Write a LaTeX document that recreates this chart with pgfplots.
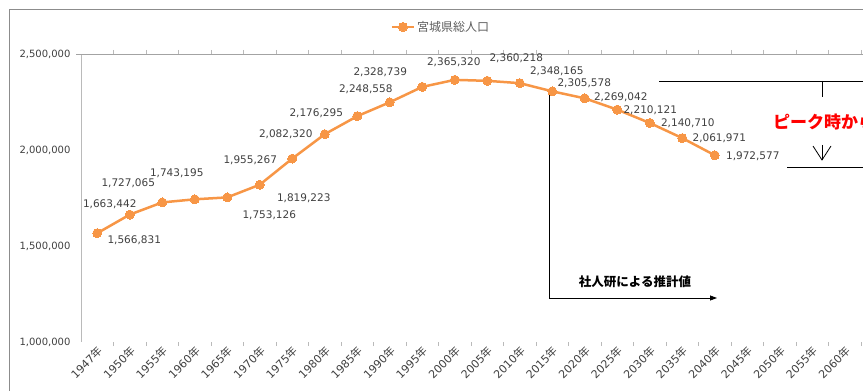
\documentclass[border=0pt]{standalone}
\usepackage{pgfplots}
\pgfplotsset{compat=1.18}
\usepackage{pgfplotstable}
\usepackage{fontspec}
\usetikzlibrary{arrows.meta}
\setmainfont{DejaVu Sans}
\newfontfamily\cjk{Noto Sans CJK JP}
\definecolor{orng}{RGB}{247,150,70}
\definecolor{txt}{RGB}{64,64,64}
\definecolor{frm}{RGB}{140,140,140}
\newcommand{\nen}[1]{#1{\cjk 年}}

\pgfplotstableread{
x y dx dy lab
0 1566831 37 -7 1,566,831
1 1663442 -20 10 1,663,442
2 1727065 -34 19 1,727,065
3 1743195 -18 26 1,743,195
4 1753126 42 -18 1,753,126
5 1819223 44 -14 1,819,223
6 1955267 -42 -2 1,955,267
7 2082320 -39 0 2,082,320
8 2176295 -41 3 2,176,295
9 2248558 -24 13 2,248,558
10 2328739 -42 15 2,328,739
11 2365320 -1 18 2,365,320
12 2360218 29 23 2,360,218
13 2348165 37 12 2,348,165
14 2305578 32 8 2,305,578
15 2269042 36 1 2,269,042
16 2210121 33 -1 2,210,121
17 2140710 38 0 2,140,710
18 2061971 37 0 2,061,971
19 1972577 38 -1 1,972,577
}\popdata

\begin{document}
\begin{tikzpicture}[font=\fontsize{10.5}{12}\selectfont]
% outer frame
\draw[frm, line width=0.8pt] (9pt,-5pt) -- (9pt,382pt) -- (875pt,382pt);
% plot frame lines
\draw[frm!60, line width=0.8pt] (81pt,49pt) -- (81pt,337pt);
\draw[frm!80, line width=0.8pt] (76pt,337pt) -- (875pt,337pt);
\begin{axis}[
  at={(81pt,49pt)}, anchor=south west,
  scale only axis, width=782pt, height=288pt,
  xmin=-0.5, xmax=23.56, ymin=1000000, ymax=2500000,
  clip=false,
  axis line style={draw=none},
  scaled y ticks=false,
  ytick={1000000,1500000,2000000,2500000},
  yticklabels={{1,000,000},{1,500,000},{2,000,000},{2,500,000}},
  yticklabel style={text=txt, font=\fontsize{10}{12}\selectfont, xshift=-7pt},
  xtick={0,...,23},
  xticklabels={\nen{1947},\nen{1950},\nen{1955},\nen{1960},\nen{1965},\nen{1970},\nen{1975},\nen{1980},\nen{1985},\nen{1990},\nen{1995},\nen{2000},\nen{2005},\nen{2010},\nen{2015},\nen{2020},\nen{2025},\nen{2030},\nen{2035},\nen{2040},\nen{2045},\nen{2050},\nen{2055},\nen{2060}},
  xticklabel style={rotate=45, anchor=east, text=txt, font=\fontsize{11}{12}\selectfont, yshift=-7pt, xshift=1pt},
  major tick length=0pt,
  minor xtick={0.5,1.5,...,23.5},
  minor tick length=4pt,
  tick align=outside,
  minor tick style={frm!60, line width=0.8pt},
  ytick style={draw=none},
  legend style={at={(axis description cs:0.392,1.094)}, anchor=west, draw=none, fill=none,
    font=\fontsize{12}{14}\selectfont, text=txt!85},
  legend image code/.code={\draw[mark repeat=2,mark phase=2,#1] plot coordinates {(0pt,0pt) (11pt,0pt) (22pt,0pt)};},
]
\addplot[orng, line width=2.5pt, mark=*, mark size=4.5pt, mark options={fill=orng, draw=orng, line width=0pt},
  point meta=explicit symbolic,
  visualization depends on={\thisrow{dx} \as \dx},
  visualization depends on={\thisrow{dy} \as \dy},
  nodes near coords,
  every node near coord/.append style={anchor=center, text=txt, font=\fontsize{10.5}{12}\selectfont, xshift=\dx pt, yshift=\dy pt},
] table[x=x, y=y, meta=lab] {\popdata};
\addlegendentry{\cjk 宮城県総人口}
\end{axis}
% projection annotation
\draw[line width=0.8pt, -{Triangle[length=7pt,width=5pt]}] (549pt,296pt) -- (549pt,93pt) -- (717pt,93pt);
\node[font=\cjk\bfseries\fontsize{12.5}{14}\selectfont] at (635pt,109pt) {社人研による推計値};
% peak annotation
\draw[line width=0.8pt] (659pt,310pt) -- (875pt,310pt);
\draw[line width=0.8pt] (822pt,310pt) -- (822pt,294pt);
\node[anchor=west, inner sep=0pt, text=red, font=\cjk\bfseries\fontsize{17}{20}\selectfont] at (773pt,269pt) {ピーク時から};
\draw[line width=0.8pt] (822pt,246pt) -- (822pt,231pt);
\draw[line width=0.8pt] (813pt,245pt) -- (822pt,231pt) -- (831pt,245pt);
\draw[line width=0.8pt] (787pt,224pt) -- (875pt,224pt);
\pgfresetboundingbox
\path[use as bounding box] (0pt,0pt) rectangle (863pt,391pt);
\end{tikzpicture}
\end{document}
